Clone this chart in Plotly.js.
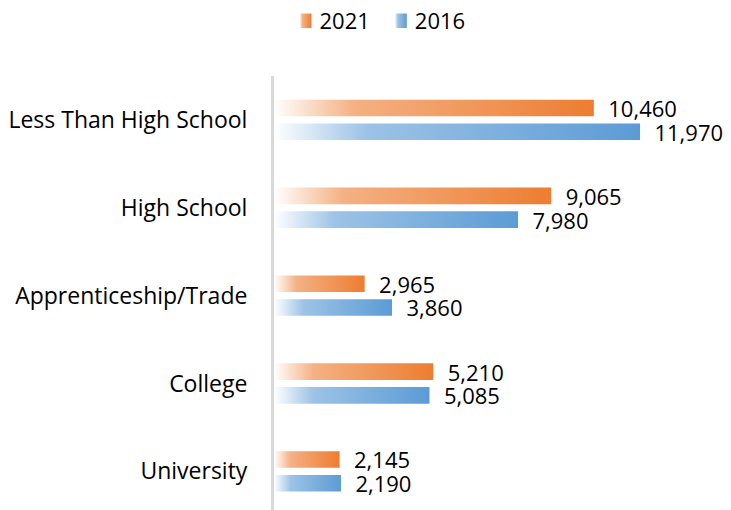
<!DOCTYPE html>
<html>
<head>
<meta charset="utf-8">
<script src="https://cdn.plot.ly/plotly-3.0.1.min.js"></script>
<style>
  html, body { margin: 0; padding: 0; background: #fff; }
  #chart { width: 731px; height: 510px; }
</style>
</head>
<body>
<div id="chart"></div>
<script>
// Education levels, top to bottom
const categories = ['Less Than High School', 'High School', 'Apprenticeship/Trade', 'College', 'University'];
const values2021 = [10460, 9065, 2965, 5210, 2145];
const values2016 = [11970, 7980, 3860, 5085, 2190];

const FONT = '"Open Sans", Lato, sans-serif';

function barTrace(name, values, color) {
  return {
    type: 'bar',
    orientation: 'h',
    name: name,
    y: categories,
    x: values,
    marker: { color: color },
    texttemplate: '\u00a0\u00a0%{x:,}',
    textposition: 'outside',
    constraintext: 'none',
    textfont: { family: FONT, size: 22, color: '#000' },
    cliponaxis: false,
    hoverinfo: 'none'
  };
}

const trace2021 = barTrace('2021', values2021, '#ed7d31');
const trace2016 = barTrace('2016', values2016, '#5b9bd5');

const layout = {
  width: 731,
  height: 510,
  margin: { t: 76, b: 0, l: 274, r: 0 },
  paper_bgcolor: '#fff',
  plot_bgcolor: '#fff',
  font: { family: FONT, size: 22, color: '#000' },
  barmode: 'group',
  bargap: 0.46,
  bargroupgap: 0.3,
  showlegend: true,
  legend: {
    orientation: 'h',
    xref: 'container',
    yref: 'container',
    x: 0.513,
    xanchor: 'center',
    y: 1,
    yanchor: 'top',
    font: { family: FONT, size: 22, color: '#000' },
    traceorder: 'normal'
  },
  xaxis: {
    range: [0, 14945],
    showgrid: false,
    zeroline: false,
    showline: false,
    showticklabels: false,
    ticks: ''
  },
  yaxis: {
    type: 'category',
    range: [4.44, -0.5],
    showgrid: false,
    zeroline: false,
    showline: true,
    linecolor: '#d9d9d9',
    linewidth: 3,
    ticks: '',
    ticklabelstandoff: 19,
    tickfont: { family: FONT, size: 23, color: '#000' }
  }
};

// Excel-style horizontal gradient fills: white on the left, full colour on the right
function addGradients(gd) {
  const svgNS = 'http://www.w3.org/2000/svg';
  const defs = gd.querySelector('.main-svg defs');
  const grads = [
    { id: 'gradOrange', stops: [[0, '#ffffff'], [0.25, '#f4b183'], [1, '#ed7d31']] },
    { id: 'gradBlue', stops: [[0, '#ffffff'], [0.25, '#9dc3e6'], [1, '#5b9bd5']] }
  ];
  grads.forEach(g => {
    const lg = document.createElementNS(svgNS, 'linearGradient');
    lg.setAttribute('id', g.id);
    lg.setAttribute('x1', '0'); lg.setAttribute('y1', '0');
    lg.setAttribute('x2', '1'); lg.setAttribute('y2', '0');
    g.stops.forEach(s => {
      const st = document.createElementNS(svgNS, 'stop');
      st.setAttribute('offset', s[0]);
      st.setAttribute('stop-color', s[1]);
      lg.appendChild(st);
    });
    defs.appendChild(lg);
  });

  const ids = ['gradOrange', 'gradBlue'];
  gd.querySelectorAll('.barlayer .trace').forEach((tr, i) => {
    tr.querySelectorAll('.point path').forEach(p => {
      p.style.fill = `url(#${ids[i]})`;
    });
  });
  // legend swatches: gradient too, and sit a bit closer to their text
  gd.querySelectorAll('.legend .traces').forEach((tr, i) => {
    tr.querySelectorAll('.legendpoints path').forEach(p => {
      p.style.fill = `url(#${ids[i]})`;
      const t = p.getAttribute('transform') || '';
      p.setAttribute('transform', t + ' translate(6,0) scale(1,1.2)');
    });
  });
}

Plotly.newPlot('chart', [trace2021, trace2016], layout, { displayModeBar: false, staticPlot: true })
  .then(addGradients);
</script>
</body>
</html>
